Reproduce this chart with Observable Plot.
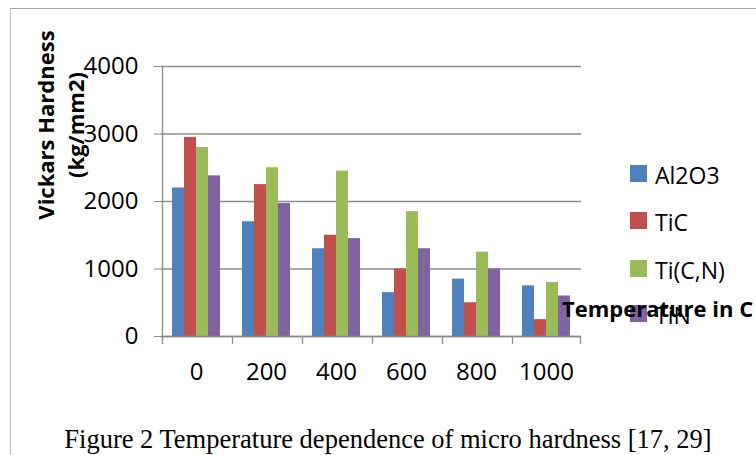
<!DOCTYPE html>
<html>
<head>
<meta charset="utf-8">
<script src="https://cdn.jsdelivr.net/npm/d3@7"></script>
<script src="https://cdn.jsdelivr.net/npm/@observablehq/plot@0.6"></script>
<style>
  html, body { margin: 0; padding: 0; background: #fff; }
  #wrap { position: relative; width: 756px; height: 455px; overflow: hidden; background: #fff; }
  #border { position: absolute; left: 10px; top: 8px; width: 800px; height: 500px;
            border-top: 1.5px solid #a6a6a6; border-left: 1.5px solid #bdbdbd; }
  #chart { position: absolute; left: 0; top: 0; }
  .ytitle { position: absolute; left: 60px; top: 125px; width: 260px; transform: translate(-50%, -50%) rotate(-90deg);
            text-align: center; font: bold 22px "Open Sans", sans-serif; line-height: 30px; color: #000; }
  .xtitle { position: absolute; left: 562px; top: 297px; font: bold 22px "Open Sans", sans-serif; line-height: 1; color: #000; white-space: nowrap; }
  .legend { position: absolute; left: 630px; top: 0; font: 23px "Open Sans", sans-serif; color: #000; }
  .item { position: absolute; left: 0; white-space: nowrap; height: 24px; }
  .sw { position: absolute; left: 0; top: 0; width: 17px; height: 17px; }
  .lab { position: absolute; left: 25px; top: -1px; line-height: 1; }
  .caption { position: absolute; left: 0; width: 776px; top: 424px; text-align: center; line-height: 1;
             font: 26.5px "Liberation Serif", "Times New Roman", serif; color: #000; white-space: nowrap; }
</style>
</head>
<body>
<div id="wrap">
  <div id="border"></div>
  <div id="chart"></div>
</div>
<script>
// ---- data ----
const temps = ["0", "200", "400", "600", "800", "1000"];
const materials = ["Al2O3", "TiC", "Ti(C,N)", "TiN"];
const al2o3 = [2200, 1700, 1300, 650, 850, 750];
const tic   = [2950, 2250, 1500, 1000, 500, 250];
const ticn  = [2800, 2500, 2450, 1850, 1250, 800];
const tin   = [2380, 1970, 1450, 1300, 1000, 600];
const yTicks = [0, 1000, 2000, 3000, 4000];
const colors = ["#4F81BD", "#C0504D", "#9BBB59", "#8064A2"];
const yTitle = ["Vickars Hardness", "(kg/mm2)"];
const xTitle = "Temperature in C";
const caption = "Figure 2 Temperature dependence of micro hardness [17, 29]";

const seriesValues = [al2o3, tic, ticn, tin];
const rows = temps.flatMap((t, i) => materials.map((m, j) => ({temp: t, material: m, value: seriesValues[j][i]})));
const leftEdges = temps.map(t => ({temp: t, material: materials[0]}));
const rightEdge = [{temp: temps[temps.length - 1], material: materials[materials.length - 1]}];
const axisLine = [{temp: temps[0], material: materials[0]}];

const gray = "#8c8c8c";
const chart = Plot.plot({
  width: 756,
  height: 410,
  marginTop: 66,
  marginBottom: 74,
  marginLeft: 160,
  marginRight: 175,
  style: {fontFamily: "'Open Sans', sans-serif", background: "transparent", overflow: "visible"},
  fx: {domain: temps, padding: 0},
  x: {domain: materials, paddingInner: 0, paddingOuter: 0.75, axis: null},
  y: {domain: [0, 4000]},
  color: {domain: materials, range: colors},
  marks: [
    Plot.gridY(yTicks, {stroke: gray, strokeOpacity: 1, strokeWidth: 1.3}),
    Plot.barY(rows, {fx: "temp", x: "material", y: "value", fill: "material"}),
    Plot.ruleY([0], {stroke: gray, strokeWidth: 1.3}),
    Plot.ruleX(axisLine, {fx: "temp", x: "material", dx: -16, y1: 0, y2: 4000, stroke: gray, strokeWidth: 1.3}),
    Plot.ruleX(leftEdges, {fx: "temp", x: "material", dx: -16, y1: 0, y2: -120, stroke: gray, strokeWidth: 1.3}),
    Plot.ruleX(rightEdge, {fx: "temp", x: "material", dx: 16, y1: 0, y2: -120, stroke: gray, strokeWidth: 1.3}),
    Plot.axisY({ticks: yTicks, tickSize: 7, tickPadding: 16, fontSize: 24, stroke: gray, label: null, tickFormat: d => String(d)}),
    Plot.axisFx({anchor: "bottom", tickSize: 0, tickPadding: 26, fontSize: 24, label: null})
  ]
});
document.getElementById("chart").appendChild(chart);

const wrap = document.getElementById("wrap");
const yt = document.createElement("div");
yt.className = "ytitle";
yt.innerHTML = yTitle.join("<br>");
wrap.appendChild(yt);

const legend = document.createElement("div");
legend.className = "legend";
const legendTops = [165, 212, 260, 305];
materials.forEach((m, i) => {
  const it = document.createElement("div");
  it.className = "item";
  it.style.top = legendTops[i] + "px";
  it.innerHTML = `<div class="sw" style="background:${colors[i]}"></div><div class="lab">${m}</div>`;
  legend.appendChild(it);
});
wrap.appendChild(legend);

const xt = document.createElement("div");
xt.className = "xtitle";
xt.textContent = xTitle;
wrap.appendChild(xt);

const cap = document.createElement("div");
cap.className = "caption";
cap.textContent = caption;
wrap.appendChild(cap);
</script>
</body>
</html>
